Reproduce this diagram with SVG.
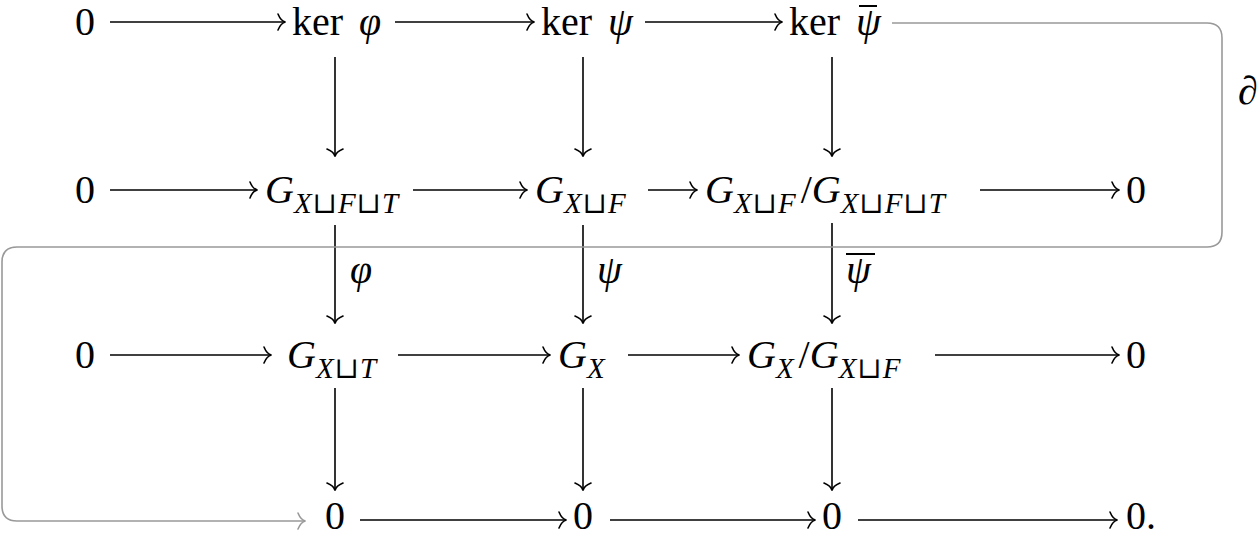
<svg xmlns="http://www.w3.org/2000/svg" width="1260" height="533" viewBox="0 0 1260 533">
<defs>
<marker id="ar" markerUnits="userSpaceOnUse" markerWidth="20" markerHeight="20" viewBox="-10 -10 20 20" refX="0" refY="0" orient="auto" overflow="visible">
<path d="M-7,-8 C-5,-3 -2,-0.5 0.5,0 C-2,0.5 -5,3 -7,8" fill="none" stroke="#000" stroke-width="1.6" stroke-linecap="round"/>
</marker>
<marker id="arg" markerUnits="userSpaceOnUse" markerWidth="20" markerHeight="20" viewBox="-10 -10 20 20" refX="0" refY="0" orient="auto" overflow="visible">
<path d="M-7,-8 C-5,-3 -2,-0.5 0.5,0 C-2,0.5 -5,3 -7,8" fill="none" stroke="#999" stroke-width="1.6" stroke-linecap="round"/>
</marker>
</defs>
<style>
text{font-family:"Liberation Serif","DejaVu Serif",serif;font-size:40px;fill:#000}
.i{font-style:italic}
.s{font-size:29px;font-style:italic;letter-spacing:1px}
.k{word-spacing:6px}
.c{stroke:#000;stroke-width:1.6;fill:none;marker-end:url(#ar)}
.g{stroke:#999;stroke-width:1.6;fill:none;marker-end:url(#arg)}
</style>
<g id="r1">
<text x="75" y="35">0</text>
<text x="292" y="35" class="k">ker <tspan class="i">φ</tspan></text>
<text x="541" y="35" class="k">ker <tspan class="i">ψ</tspan></text>
<text x="789" y="35" class="k">ker <tspan class="i">ψ</tspan></text>
<line x1="859" y1="6" x2="877" y2="6" stroke="#000" stroke-width="2"/>
</g>
<g id="r2">
<text x="75" y="203">0</text>
<text x="265" y="203" class="i">G<tspan class="s" dy="10">X⊔F⊔T</tspan></text>
<text x="535" y="203" class="i">G<tspan class="s" dy="10">X⊔F</tspan></text>
<text x="705" y="203" class="i">G<tspan class="s" dy="10">X⊔F</tspan><tspan dy="-10" font-style="normal" dx="4">/</tspan>G<tspan class="s" dy="10">X⊔F⊔T</tspan></text>
<text x="1126" y="203">0</text>
</g>
<g id="r3">
<text x="75" y="368">0</text>
<text x="287" y="368" class="i">G<tspan class="s" dy="10">X⊔T</tspan></text>
<text x="558" y="368" class="i">G<tspan class="s" dy="10">X</tspan></text>
<text x="747" y="368" class="i">G<tspan class="s" dy="10">X</tspan><tspan dy="-10" font-style="normal" dx="4">/</tspan>G<tspan class="s" dy="10">X⊔F</tspan></text>
<text x="1126" y="368">0</text>
</g>
<g id="r4">
<text x="325" y="529">0</text>
<text x="573" y="529">0</text>
<text x="822" y="529">0</text>
<text x="1126" y="529">0.</text>
</g>
<g id="labels">
<text x="350" y="283" class="i">φ</text>
<text x="597" y="283" class="i">ψ</text>
<text x="846" y="283" class="i">ψ</text>
<line x1="846" y1="254" x2="875" y2="254" stroke="#000" stroke-width="2"/>
<text x="1238" y="104" class="i">∂</text>
</g>
<g id="connectors">
<path class="c" d="M110,22 H285"/>
<path class="c" d="M395,22 H534"/>
<path class="c" d="M645,22 H782"/>
<path class="c" d="M110,190 H257"/>
<path class="c" d="M413,190 H527"/>
<path class="c" d="M648,190 H697"/>
<path class="c" d="M980,190 H1119"/>
<path class="c" d="M110,355 H271"/>
<path class="c" d="M398,355 H550"/>
<path class="c" d="M628,355 H739"/>
<path class="c" d="M935,355 H1119"/>
<path class="c" d="M360,520 H566"/>
<path class="c" d="M610,520 H815"/>
<path class="c" d="M858,520 H1117"/>
<path class="c" d="M335,57 V156"/>
<path class="c" d="M583,57 V156"/>
<path class="c" d="M832,57 V156"/>
<path class="c" d="M335,225 V323"/>
<path class="c" d="M583,225 V323"/>
<path class="c" d="M832,223 V323"/>
<path class="c" d="M335,388 V490"/>
<path class="c" d="M583,388 V490"/>
<path class="c" d="M832,388 V490"/>
<path class="g" d="M892,23 H1207 Q1222,23 1222,38 V232 Q1222,247 1207,247 H17 Q2,247 2,262 V506 Q2,521 17,521 H305"/>
</g>
</svg>
